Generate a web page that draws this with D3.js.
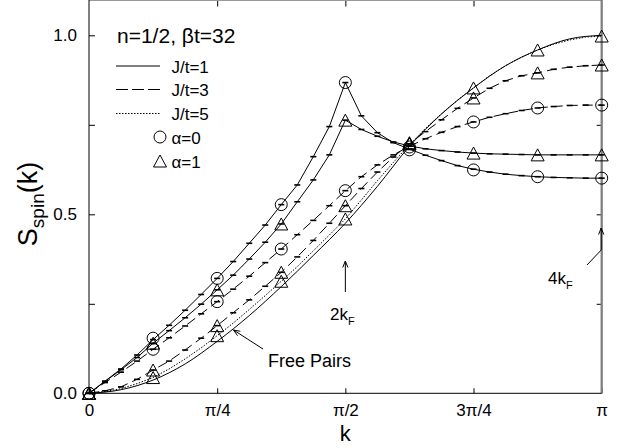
<!DOCTYPE html>
<meta charset="utf-8">
<head>
<title>S_spin(k)</title>
<style>
body { margin: 0; background: #fff; }
svg text { font-family: "Liberation Sans", Arial, Helvetica, sans-serif; fill: #000; }
</style>
</head>
<body>
<script src="https://cdnjs.cloudflare.com/ajax/libs/d3/7.8.5/d3.min.js"></script>
<script>

// k grid of the lines, in units of pi/32
var kFine = [0,1,2,3,4,5,6,7,8,9,10,11,12,13,14,15,16,17,18,19,20,21,22,23,24,25,26,27,28,29,30,31,32];
// k grid of the symbols, in units of pi/8
var kSym = [0,1,2,3,4,5,6,7,8];
// free pairs curve, in units of pi/16
var kFree = [0,1,2,3,4,5,6,7,8,9,10,11,12,13,14,15,16];

// lines (with error bar caps)
var j1a0 = [0,0.034,0.068,0.107,0.150,0.190,0.232,0.276,0.321,0.368,0.419,0.470,0.527,0.582,0.661,0.745,0.868,
            0.775,0.728,0.700,0.682,0.665,0.650,0.636,0.626,0.618,0.612,0.608,0.605,0.603,0.602,0.601,0.601];
var j1a1 = [0,0.033,0.066,0.100,0.140,0.175,0.211,0.249,0.289,0.330,0.375,0.422,0.473,0.535,0.596,0.666,0.763,
            0.737,0.718,0.702,0.691,0.683,0.678,0.674,0.671,0.669,0.668,0.667,0.666,0.666,0.666,0.666,0.666];
var j3a0 = [0,0.030,0.059,0.090,0.123,0.155,0.188,0.222,0.256,0.291,0.327,0.365,0.403,0.443,0.483,0.524,0.566,
            0.605,0.638,0.666,0.690,0.711,0.729,0.745,0.758,0.771,0.781,0.790,0.797,0.801,0.804,0.805,0.805];
var j3a1 = [0,0.007,0.018,0.039,0.065,0.090,0.121,0.154,0.189,0.225,0.261,0.299,0.338,0.381,0.427,0.475,0.524,
            0.572,0.618,0.660,0.697,0.731,0.764,0.796,0.825,0.852,0.873,0.887,0.895,0.905,0.911,0.915,0.917];
var j5a1 = [0,0.005,0.013,0.027,0.044,0.068,0.096,0.127,0.161,0.196,0.234,0.273,0.313,0.354,0.398,0.442,0.487,
            0.540,0.594,0.645,0.695,0.740,0.781,0.819,0.853,0.887,0.915,0.939,0.959,0.975,0.987,0.995,0.998];
var freePairs = [0,0.010,0.037,0.082,0.145,0.217,0.298,0.385,0.475,0.578,0.690,0.780,0.853,0.915,0.959,0.990,1.0];

// symbols
var symJ1a0 = [0,0.154,0.321,0.527,0.868,0.680,0.624,0.605,0.601];
var symJ1a1 = [0,0.140,0.289,0.473,0.763,0.698,0.671,0.666,0.666];
var symJ3a0 = [0,0.123,0.256,0.403,0.566,0.688,0.758,0.797,0.805];
var symJ3a1 = [0,0.065,0.189,0.338,0.524,0.697,0.825,0.895,0.917];
var symJ5a1 = [0,0.044,0.161,0.313,0.487,0.700,0.853,0.959,0.998];

var xTicks = [0, Math.PI/4, Math.PI/2, 3*Math.PI/4, Math.PI];
var xTickLabels = ["0", "\u03c0/4", "\u03c0/2", "3\u03c0/4", "\u03c0"];
var yTicks = [0, 0.25, 0.5, 0.75, 1];
var yTickLabels = ["0.0", "", "0.5", "", "1.0"];

var series = [
  {vals: j1a0, sym: symJ1a0, shape: "circle",   dash: null,    caps: true},
  {vals: j1a1, sym: symJ1a1, shape: "triangle", dash: null,    caps: true},
  {vals: j3a0, sym: symJ3a0, shape: "circle",   dash: "10,5",  caps: true},
  {vals: j3a1, sym: symJ3a1, shape: "triangle", dash: "10,5",  caps: true},
  {vals: j5a1, sym: symJ5a1, shape: "triangle", dash: "1.5,1.5", caps: false}
];

var W = 622, H = 448;
var x = d3.scaleLinear().domain([0, Math.PI]).range([89, 601.7]);
var y = d3.scaleLinear().domain([0, 1]).range([393.3, 35.3]);

var svg = d3.select("body").append("svg")
    .attr("width", W)
    .attr("height", H);

// axes
svg.append("g")
    .attr("transform", "translate(0," + y(0) + ")")
    .call(d3.axisBottom(x).tickValues(xTicks).tickSize(-5).tickPadding(11)
          .tickFormat(function(d, i) { return xTickLabels[i]; }))
    .call(function(g) { g.select(".domain").remove(); })
    .selectAll("text").style("font-size", "17px");

svg.append("g")
    .attr("transform", "translate(" + x(0) + ",0)")
    .call(d3.axisLeft(y).tickValues(yTicks).tickSize(-6).tickPadding(12)
          .tickFormat(function(d, i) { return yTickLabels[i]; }))
    .call(function(g) { g.select(".domain").remove(); })
    .selectAll("text").style("font-size", "17px");

svg.append("g")
    .attr("transform", "translate(0,0.5)")
    .call(d3.axisTop(x).tickValues(xTicks.slice(1, 4)).tickSize(-6).tickFormat(""))
    .call(function(g) { g.select(".domain").remove(); });

svg.append("g")
    .attr("transform", "translate(" + x(Math.PI) + ",0)")
    .call(d3.axisRight(y).tickValues(yTicks.slice(1)).tickSize(-5).tickFormat(""))
    .call(function(g) { g.select(".domain").remove(); });

// frame
svg.append("line").attr("x1", x(0)).attr("x2", x(Math.PI)).attr("y1", 0.5).attr("y2", 0.5)
    .attr("stroke", "#999").attr("stroke-width", 1);
svg.append("line").attr("x1", x(Math.PI)).attr("x2", x(Math.PI)).attr("y1", 0).attr("y2", y(0))
    .attr("stroke", "#808080").attr("stroke-width", 2.3);
svg.append("line").attr("x1", x(0)).attr("x2", x(0)).attr("y1", 0).attr("y2", y(0))
    .attr("stroke", "#000").attr("stroke-width", 1);
svg.append("line").attr("x1", x(0)).attr("x2", x(Math.PI)).attr("y1", y(0)).attr("y2", y(0))
    .attr("stroke", "#000").attr("stroke-width", 1);

// curves
var lineFine = d3.line()
    .x(function(d, i) { return x(kFine[i] * Math.PI / 32); })
    .y(function(d) { return y(d); });

var lineFree = d3.line()
    .x(function(d, i) { return x(kFree[i] * Math.PI / 16); })
    .y(function(d) { return y(d); })
    .curve(d3.curveMonotoneX);

svg.append("path")
    .attr("d", lineFree(freePairs))
    .attr("fill", "none").attr("stroke", "#000").attr("stroke-width", 1);

series.forEach(function(s) {
  svg.append("path")
      .attr("d", lineFine(s.vals))
      .attr("fill", "none")
      .attr("stroke", "#000")
      .attr("stroke-width", 1)
      .attr("stroke-dasharray", s.dash);

  if (s.caps) {
    svg.append("g").selectAll("line")
        .data(s.vals)
      .enter().append("line")
        .attr("x1", function(d, i) { return x(kFine[i] * Math.PI / 32) - 3; })
        .attr("x2", function(d, i) { return x(kFine[i] * Math.PI / 32) + 3; })
        .attr("y1", function(d) { return y(d); })
        .attr("y2", function(d) { return y(d); })
        .attr("stroke", "#000")
        .attr("stroke-width", 1.6);
  }
});

// symbols
function triPath(cx, cy) {
  return "M" + (cx - 6.5) + "," + (cy + 6) + "L" + (cx + 6.5) + "," + (cy + 6) + "L" + cx + "," + (cy - 6) + "Z";
}

series.forEach(function(s) {
  var g = svg.append("g");
  if (s.shape === "circle") {
    g.selectAll("circle")
        .data(s.sym)
      .enter().append("circle")
        .attr("cx", function(d, i) { return x(kSym[i] * Math.PI / 8); })
        .attr("cy", function(d) { return y(d); })
        .attr("r", 6)
        .attr("fill", "none").attr("stroke", "#000").attr("stroke-width", 1);
  } else {
    g.selectAll("path")
        .data(s.sym)
      .enter().append("path")
        .attr("d", function(d, i) { return triPath(x(kSym[i] * Math.PI / 8), y(d)); })
        .attr("fill", "none").attr("stroke", "#000").attr("stroke-width", 1);
  }
});

// axis titles
svg.append("text")
    .attr("x", (x(0) + x(Math.PI)) / 2)
    .attr("y", 441)
    .attr("text-anchor", "middle")
    .style("font-size", "22px")
    .text("k");

var ylab = svg.append("text")
    .attr("transform", "translate(37,204) rotate(-90)")
    .attr("text-anchor", "middle")
    .style("font-size", "27px");
ylab.append("tspan").text("S");
ylab.append("tspan").attr("dy", 7).style("font-size", "19px").text("spin");
ylab.append("tspan").attr("dy", -7).text("(k)");

// legend
svg.append("text").attr("x", 117).attr("y", 43).style("font-size", "21px")
    .text("n=1/2, \u03b2t=32");

var legendLines = [
  {label: "J/t=1", dash: null, y: 66},
  {label: "J/t=3", dash: "12,4", y: 89.5},
  {label: "J/t=5", dash: "1.5,1.5", y: 113.5}
];
legendLines.forEach(function(l) {
  svg.append("line").attr("x1", 116).attr("x2", 160).attr("y1", l.y).attr("y2", l.y)
      .attr("stroke", "#000").attr("stroke-width", 1).attr("stroke-dasharray", l.dash);
  svg.append("text").attr("x", 171.5).attr("y", l.y + 6.5).style("font-size", "17px").text(l.label);
});

svg.append("circle").attr("cx", 160).attr("cy", 137).attr("r", 6)
    .attr("fill", "none").attr("stroke", "#000");
svg.append("text").attr("x", 171.5).attr("y", 143.5).style("font-size", "17px").text("\u03b1=0");
svg.append("path").attr("d", triPath(160, 161))
    .attr("fill", "none").attr("stroke", "#000");
svg.append("text").attr("x", 171.5).attr("y", 167.5).style("font-size", "17px").text("\u03b1=1");

// annotations
function arrow(pts) {
  svg.append("path")
      .attr("d", d3.line()(pts))
      .attr("fill", "none").attr("stroke", "#000").attr("stroke-width", 1);
  var a = pts[pts.length - 2], b = pts[pts.length - 1];
  var ang = Math.atan2(b[1] - a[1], b[0] - a[0]);
  var len = 7, spread = 0.38;
  var p1 = [b[0] - len * Math.cos(ang - spread), b[1] - len * Math.sin(ang - spread)];
  var p2 = [b[0] - len * Math.cos(ang + spread), b[1] - len * Math.sin(ang + spread)];
  svg.append("path")
      .attr("d", d3.line()([p1, b, p2]))
      .attr("fill", "none").attr("stroke", "#000").attr("stroke-width", 1);
}

arrow([[x(Math.PI / 2), 292], [x(Math.PI / 2), 261]]);
arrow([[587, 265], [x(Math.PI) - 0.5, 250], [x(Math.PI) - 0.5, 228]]);
arrow([[263, 349], [233.5, 330]]);

var t2 = svg.append("text").attr("x", 330).attr("y", 319.5).style("font-size", "17px");
t2.append("tspan").text("2k");
t2.append("tspan").attr("dy", 5).style("font-size", "11px").text("F");

var t4 = svg.append("text").attr("x", 548).attr("y", 283.5).style("font-size", "17px");
t4.append("tspan").text("4k");
t4.append("tspan").attr("dy", 5).style("font-size", "11px").text("F");

svg.append("text").attr("x", 268).attr("y", 367).style("font-size", "18px").text("Free Pairs");

</script>
</body>
